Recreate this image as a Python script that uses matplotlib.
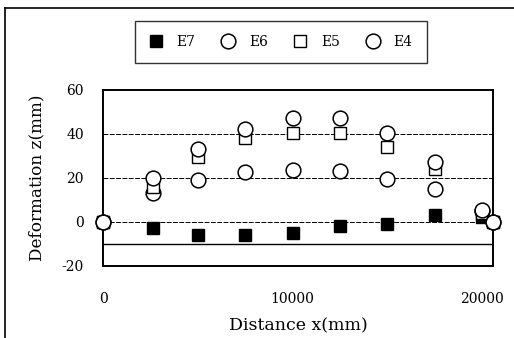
import numpy as np
import matplotlib
matplotlib.use("Agg")
import matplotlib.pyplot as plt
from matplotlib.lines import Line2D

# measuring points along the span (mm)
distance = [0, 2600, 5000, 7500, 10000, 12500, 15000, 17500, 20000, 20600]

# vertical deformation at each point (mm)
e7 = [0, -3, -6, -6, -5, -2, -1, 3, 2, 0]
e6 = [0, 13, 19, 22.5, 23.5, 23, 19.5, 15, 5, 0]
e5 = [0, 16, 29.5, 38, 40.5, 40.5, 34, 24, 4, 0]
e4 = [0, 20, 33, 42, 47, 47, 40.5, 27, 5.5, 0]

x_ticks = [0, 10000, 20000]
y_ticks = [-20, 0, 20, 40, 60]
grid_levels = [0, 20, 40]
base_level = -10


def main():
    plt.rcParams['font.family'] = ['DejaVu Serif']
    plt.rcParams['axes.unicode_minus'] = False

    fig = plt.figure(figsize=(5.14, 3.38), dpi=100)
    ax = fig.add_axes([0.201, 0.214, 0.759, 0.520])

    for lv in grid_levels:
        ax.axhline(lv, color='black', lw=0.7, ls=(0, (5, 1.5)), zorder=1)
    ax.axhline(base_level, color='black', lw=1.0, zorder=1)

    ax.plot(distance, e7, ls='none', marker='s', ms=8.6, mfc='black',
            mec='black', label='E7', zorder=3, clip_on=False)
    ax.plot(distance, e6, ls='none', marker='o', ms=10.6, mfc='white',
            mec='black', mew=1.1, label='E6', zorder=4, clip_on=False)
    ax.plot(distance, e5, ls='none', marker='s', ms=8.2, mfc='white',
            mec='black', mew=1.0, label='E5', zorder=5, clip_on=False)
    ax.plot(distance, e4, ls='none', marker='o', ms=10.6, mfc='white',
            mec='black', mew=1.1, label='E4', zorder=6, clip_on=False)

    ax.set_xlim(0, 20600)
    ax.set_ylim(-20, 60)
    ax.set_xticks(x_ticks)
    ax.set_yticks(y_ticks)
    ax.tick_params(length=0, labelsize=10)
    ax.tick_params(axis='x', pad=19)
    ax.tick_params(axis='y', pad=14)
    for sp in ax.spines.values():
        sp.set_linewidth(1.4)
        sp.set_color('black')

    ax.set_xlabel('Distance x(mm)', fontsize=12.5, labelpad=8)
    ax.set_ylabel('Deformation z(mm)', fontsize=12.2, labelpad=12)

    leg = fig.legend(loc='center', bbox_to_anchor=(0.546, 0.876), ncol=4,
                     frameon=True, fancybox=False, edgecolor='black',
                     fontsize=10, handletextpad=1.0, columnspacing=1.85,
                     borderpad=1.0, handlelength=1.0)
    leg.get_frame().set_linewidth(1.0)

    # outer chart frame (left and top edges)
    fig.add_artist(Line2D([5 / 514, 5 / 514], [0, 1 - 8 / 338],
                          transform=fig.transFigure, color='black', lw=1.2))
    fig.add_artist(Line2D([5 / 514, 1], [1 - 8 / 338, 1 - 8 / 338],
                          transform=fig.transFigure, color='black', lw=1.2))

    fig.savefig('out.png', dpi=100)


if __name__ == "__main__":
    main()
